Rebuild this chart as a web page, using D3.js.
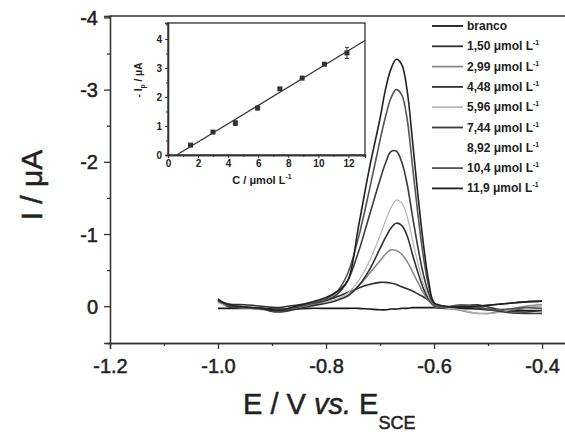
<!DOCTYPE html>
<html>
<head>
<meta charset="utf-8">
<script src="https://cdn.jsdelivr.net/npm/d3@7"></script>
<style>
body{margin:0;background:#fff}
text{font-family:"Liberation Sans",Arial,sans-serif;fill:#222}
.heavy{stroke:#222;stroke-width:0.5px}
</style>
</head>
<body>
<script>
var width = 565, height = 432;

// potential grid (V vs SCE)
var potential = [-1.00,-0.98,-0.95,-0.92,-0.89,-0.86,-0.83,-0.80,-0.78,-0.76,-0.74,-0.72,-0.70,-0.69,-0.68,-0.67,-0.66,-0.65,-0.64,-0.63,-0.62,-0.61,-0.60,-0.58,-0.55,-0.52,-0.49,-0.46,-0.43,-0.40];

// currents (uA) per concentration
var branco = [0.03,0.03,0.03,0.03,0.04,0.04,0.03,0.03,0.03,0.03,0.03,0.04,0.05,0.05,0.04,0.04,0.03,0.03,0.02,0.02,0.02,0.02,0.02,0.03,0.03,0.04,0.05,0.05,0.06,0.06];
var c150 = [-0.08,-0.03,-0.02,0.0,0.02,-0.01,-0.04,-0.08,-0.13,-0.19,-0.25,-0.30,-0.33,-0.33,-0.32,-0.30,-0.27,-0.24,-0.21,-0.17,-0.13,-0.08,-0.03,0.0,0.02,0.0,-0.02,-0.04,-0.06,-0.07];
var c299 = [-0.06,0.0,0.02,0.04,0.07,0.03,-0.02,-0.05,-0.09,-0.15,-0.28,-0.45,-0.63,-0.72,-0.78,-0.77,-0.72,-0.62,-0.48,-0.33,-0.19,-0.08,0.0,0.02,0.06,0.10,0.09,0.04,0.0,-0.02];
var c448 = [-0.08,0.01,0.02,0.04,0.08,0.05,0.0,-0.04,-0.08,-0.14,-0.28,-0.50,-0.80,-0.95,-1.08,-1.15,-1.12,-0.98,-0.72,-0.47,-0.25,-0.10,-0.01,0.02,0.0,-0.02,0.03,0.07,0.08,0.06];
var c596 = [-0.05,0.0,0.03,0.05,0.06,0.02,-0.03,-0.06,-0.10,-0.18,-0.35,-0.62,-0.98,-1.18,-1.36,-1.47,-1.43,-1.25,-0.92,-0.60,-0.32,-0.13,-0.02,0.02,0.05,0.10,0.10,0.05,0.02,0.0];
var c744 = [-0.10,0.0,0.02,0.03,0.06,0.02,-0.03,-0.08,-0.16,-0.35,-0.75,-1.25,-1.75,-1.98,-2.14,-2.15,-2.00,-1.70,-1.25,-0.82,-0.45,-0.18,-0.03,0.01,0.0,0.03,0.06,0.09,0.10,0.10];
var c104 = [-0.07,-0.01,0.02,0.04,0.07,0.02,-0.04,-0.10,-0.20,-0.45,-0.95,-1.60,-2.30,-2.62,-2.88,-3.00,-2.93,-2.60,-1.95,-1.28,-0.70,-0.28,-0.04,0.01,-0.02,0.01,0.05,0.04,0.02,0.03];
var c119 = [-0.09,-0.02,0.01,0.03,0.06,0.01,-0.05,-0.12,-0.20,-0.35,-1.10,-1.90,-2.60,-3.00,-3.28,-3.42,-3.35,-3.00,-2.30,-1.55,-0.88,-0.35,-0.05,0.0,0.01,0.0,-0.02,-0.04,-0.06,-0.07];

var legendLabels = ["branco","1,50","2,99","4,48","5,96","7,44","8,92","10,4","11,9"];
var legendColors = ["#1a1a1a","#2e2e2e","#8a8a8a","#333333","#b5b5b5","#3a3a3a","none","#555555","#222222"];
var curves = [branco,c150,c299,c448,c596,c744,null,c104,c119];

// inset: peak current vs concentration
var conc = [1.50,2.99,4.48,5.96,7.44,8.92,10.4,11.9];
var ipeak = [0.34,0.79,1.10,1.62,2.28,2.65,3.13,3.52];
var ipErr = [0.03,0.03,0.08,0.06,0.04,0.03,0.03,0.19];

var xTicks = [-1.2,-1.0,-0.8,-0.6,-0.4];
var yTicks = [-4,-3,-2,-1,0];
var insetXTicks = [0,2,4,6,8,10,12];
var insetYTicks = [0,1,2,3,4];

var svg = d3.select("body").append("svg")
    .attr("width", width)
    .attr("height", height);

var x = d3.scaleLinear().domain([-1.2,-0.339]).range([110,575]);
var y = d3.scaleLinear().domain([-4.02,0.51]).range([16,343]);

// frame top line
svg.append("line")
    .attr("x1",110).attr("x2",width).attr("y1",16).attr("y2",16)
    .style("stroke","#333").style("stroke-width",1.5);

var xAxis = svg.append("g").attr("transform","translate(0,343)")
    .call(d3.axisBottom(x).tickValues(xTicks).tickSize(6).tickPadding(10)
        .tickFormat(function(d){return d.toFixed(1);}));
svg.append("g").attr("transform","translate(0,343)")
    .call(d3.axisBottom(x).tickValues([-1.1,-0.9,-0.7,-0.5]).tickSize(3).tickFormat(""));
var yAxis = svg.append("g").attr("transform","translate(110,0)")
    .call(d3.axisLeft(y).tickValues(yTicks).tickSize(6).tickPadding(6)
        .tickFormat(function(d){return d;}));
svg.append("g").attr("transform","translate(110,0)")
    .call(d3.axisLeft(y).tickValues([-3.5,-2.5,-1.5,-0.5]).tickSize(3).tickFormat(""));

svg.selectAll(".domain").style("stroke","#333").style("stroke-width",1.5);
svg.selectAll(".tick line").style("stroke","#333").style("stroke-width",1.3);
xAxis.selectAll("text").attr("class","heavy").style("font-size","20px");
yAxis.selectAll("text").attr("class","heavy").style("font-size","20px").attr("dy","0.35em");

// axis titles
svg.append("text")
    .attr("class","heavy")
    .attr("transform","translate(42,185) rotate(-90)")
    .attr("text-anchor","middle")
    .style("font-size","30px")
    .text("I / \u03bcA");

var xt = svg.append("text")
    .attr("class","heavy")
    .attr("x",243).attr("y",414)
    .style("font-size","29px");
xt.append("tspan").text("E / V ");
xt.append("tspan").style("font-style","italic").text("vs.");
xt.append("tspan").text(" E");
xt.append("tspan").attr("dy",15).style("font-size","18px").text("SCE");

// curves
var line = d3.line()
    .x(function(d){return x(d[0]);})
    .y(function(d){return y(d[1]);})
    .curve(d3.curveCatmullRom.alpha(0.5));

curves.forEach(function(c,i){
    if(!c) return;
    svg.append("path")
        .datum(potential.map(function(e,j){return [e,c[j]];}))
        .attr("d",line)
        .style("fill","none")
        .style("stroke",legendColors[i])
        .style("stroke-width",i==4 ? 1.2 : 1.6);
});

// legend
legendLabels.forEach(function(lab,i){
    var ly = 26 + i*20.3;
    if(legendColors[i]!="none"){
        svg.append("line")
            .attr("x1",432).attr("x2",463).attr("y1",ly).attr("y2",ly)
            .style("stroke",legendColors[i])
            .style("stroke-width",1.8);
    }
    var t = svg.append("text")
        .attr("x",467).attr("y",ly+4)
        .style("font-size","12px").style("font-weight","bold");
    if(i==0){
        t.text(lab);
    } else {
        t.append("tspan").text(lab+" \u03bcmol L");
        t.append("tspan").attr("dy",-5).style("font-size","7px").text("-1");
    }
});

// inset
var ix = d3.scaleLinear().domain([0,13.1]).range([168,365]);
var iy = d3.scaleLinear().domain([0,4.55]).range([155,23]);

svg.append("rect")
    .attr("x",168).attr("y",23).attr("width",197).attr("height",132)
    .style("fill","#fff").style("stroke","#333").style("stroke-width",1.3);

var ixAxis = svg.append("g").attr("transform","translate(0,155)")
    .call(d3.axisBottom(ix).tickValues(insetXTicks).tickSize(3).tickPadding(2)
        .tickFormat(function(d){return d;}));
svg.append("g").attr("transform","translate(0,155)")
    .call(d3.axisBottom(ix).tickValues([1,3,5,7,9,11,13]).tickSize(2).tickFormat(""));
var iyAxis = svg.append("g").attr("transform","translate(168,0)")
    .call(d3.axisLeft(iy).tickValues(insetYTicks).tickSize(3).tickPadding(3)
        .tickFormat(function(d){return d;}));
svg.append("g").attr("transform","translate(168,0)")
    .call(d3.axisLeft(iy).tickValues([0.5,1.5,2.5,3.5,4.5]).tickSize(2).tickFormat(""));
[ixAxis,iyAxis].forEach(function(a){
    a.selectAll("text").style("font-size","10px").style("font-weight","bold");
});
svg.selectAll(".domain").style("stroke","#333").style("stroke-width",1.3);
svg.selectAll(".tick line").style("stroke","#333");

// least-squares line through the inset points
var mx = d3.mean(conc), my = d3.mean(ipeak);
var slope = d3.sum(conc,function(c,i){return (c-mx)*(ipeak[i]-my);}) /
            d3.sum(conc,function(c){return (c-mx)*(c-mx);});
var icpt = my - slope*mx;
var x0 = -icpt/slope, x1 = 13.1;
svg.append("line")
    .attr("x1",ix(x0)).attr("y1",iy(0))
    .attr("x2",ix(x1)).attr("y2",iy(icpt+slope*x1))
    .style("stroke","#333").style("stroke-width",1.2);

conc.forEach(function(c,i){
    svg.append("line")
        .attr("x1",ix(c)).attr("x2",ix(c))
        .attr("y1",iy(ipeak[i]-ipErr[i])).attr("y2",iy(ipeak[i]+ipErr[i]))
        .style("stroke","#333").style("stroke-width",1);
    [ipeak[i]-ipErr[i],ipeak[i]+ipErr[i]].forEach(function(v){
        svg.append("line")
            .attr("x1",ix(c)-2).attr("x2",ix(c)+2)
            .attr("y1",iy(v)).attr("y2",iy(v))
            .style("stroke","#333").style("stroke-width",1);
    });
});
svg.selectAll(".pt").data(conc).enter().append("rect")
    .attr("class","pt")
    .attr("x",function(d){return ix(d)-2.5;})
    .attr("y",function(d,i){return iy(ipeak[i])-2.5;})
    .attr("width",5).attr("height",5)
    .style("fill","#333");

var iyt = svg.append("text")
    .attr("transform","translate(142,80) rotate(-90)")
    .attr("text-anchor","middle")
    .style("font-size","10px").style("font-weight","bold");
iyt.append("tspan").text("- I");
iyt.append("tspan").attr("dy",3).style("font-size","7px").text("p");
iyt.append("tspan").attr("dy",-3).text(" / \u03bcA");

var ixt = svg.append("text")
    .attr("x",262).attr("y",184)
    .attr("text-anchor","middle")
    .style("font-size","11px").style("font-weight","bold");
ixt.append("tspan").text("C / \u03bcmol L");
ixt.append("tspan").attr("dy",-5).style("font-size","7px").text("-1");
</script>
</body>
</html>
